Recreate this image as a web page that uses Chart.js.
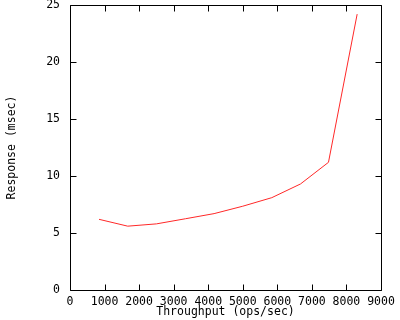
<!DOCTYPE html>
<html>
<head>
<meta charset="utf-8">
<script src="https://cdn.jsdelivr.net/npm/chart.js@4/dist/chart.umd.min.js"></script>
<style>
html,body{margin:0;padding:0;background:#fff;}
#c{display:block;}
</style>
</head>
<body>
<canvas id="c" width="400" height="320"></canvas>
<script>
const throughput = [840, 1670, 2500, 3340, 4170, 5000, 5840, 6670, 7480, 8310];
const response   = [6.2, 5.6, 5.8, 6.25, 6.7, 7.35, 8.1, 9.3, 11.2, 24.2];
const xTicks = [0, 1000, 2000, 3000, 4000, 5000, 6000, 7000, 8000, 9000];
const yTicks = [0, 5, 10, 15, 20, 25];
const xTitle = 'Throughput (ops/sec)';
const yTitle = 'Response (msec)';

const FONT = 'DejaVu Sans Mono';

const frame = {
  id: 'frame',
  afterDraw(chart) {
    const {ctx, chartArea: a, scales: {x, y}} = chart;
    ctx.save();
    ctx.strokeStyle = '#000';
    ctx.lineWidth = 1;
    const L = Math.round(a.left) + 0.5, R = Math.round(a.right) + 0.5;
    const T = Math.round(a.top) + 0.5, B = Math.round(a.bottom) + 0.5;
    ctx.beginPath();
    ctx.rect(L, T, R - L, B - T);
    const len = 6;
    xTicks.forEach(v => {
      const p = Math.round(x.getPixelForValue(v)) + 0.5;
      ctx.moveTo(p, B); ctx.lineTo(p, B - len);
      ctx.moveTo(p, T); ctx.lineTo(p, T + len);
    });
    yTicks.forEach(v => {
      const p = Math.round(y.getPixelForValue(v)) + 0.5;
      ctx.moveTo(L, p); ctx.lineTo(L + len, p);
      ctx.moveTo(R, p); ctx.lineTo(R - len, p);
    });
    ctx.stroke();
    ctx.restore();
  }
};

new Chart(document.getElementById('c'), {
  type: 'scatter',
  data: {
    datasets: [{
      data: throughput.map((v, i) => ({x: v, y: response[i]})),
      showLine: true,
      borderColor: 'rgb(255,40,40)',
      backgroundColor: 'rgb(255,40,40)',
      borderWidth: 1,
      pointRadius: 0,
      tension: 0
    }]
  },
  options: {
    responsive: false,
    animation: false,
    layout: {padding: {top: 5, right: 19, left: 0, bottom: 0}},
    plugins: {legend: {display: false}, tooltip: {enabled: false}},
    scales: {
      x: {
        type: 'linear', min: 0, max: 9000,
        afterBuildTicks(s) { s.ticks = xTicks.map(v => ({value: v})); },
        afterFit(s) { s.height = 30; s.paddingLeft = 0; s.paddingRight = 0; },
        grid: {display: false, drawTicks: false},
        border: {display: false},
        ticks: {color: '#000', padding: 5, maxRotation: 0, autoSkip: false,
                callback: v => String(v),
                font: {family: FONT, size: 11.5}},
        title: {display: true, text: xTitle, color: '#000',
                font: {family: FONT, size: 11.5}, padding: {top: 0, bottom: 1}}
      },
      y: {
        type: 'linear', min: 0, max: 25,
        afterBuildTicks(s) { s.ticks = yTicks.map(v => ({value: v})); },
        afterFit(s) { s.width = 70; s.paddingTop = 0; s.paddingBottom = 0; },
        grid: {display: false, drawTicks: false},
        border: {display: false},
        ticks: {color: '#000', padding: 10, autoSkip: false,
                callback: v => String(v),
                font: {family: FONT, size: 11.5}},
        title: {display: true, text: yTitle, color: '#000',
                font: {family: FONT, size: 11.5}, padding: {top: 5, bottom: 0}}
      }
    }
  },
  plugins: [frame]
});
</script>
</body>
</html>
